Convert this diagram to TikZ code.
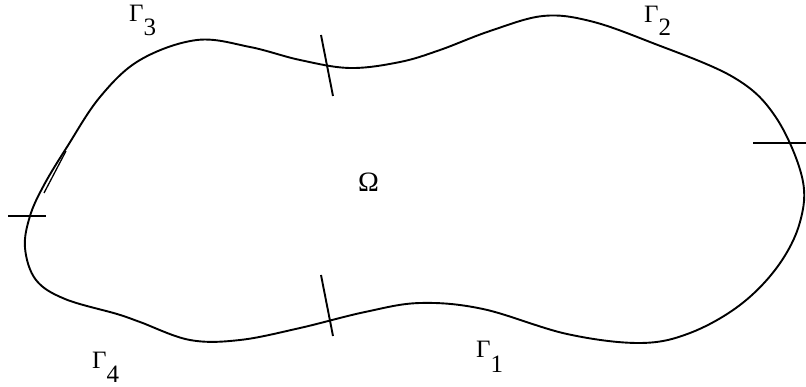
\documentclass[tikz,border=0pt]{standalone}
\usepackage{fontspec}
\setmainfont{Liberation Serif}
\tikzset{
  boundary/.style={line width=1.9pt, line join=round},
  tickline/.style={line width=1.9pt},
  lbl/.style={inner sep=0pt, font=\fontsize{25}{29}\selectfont},
  biglbl/.style={inner sep=0pt, font=\fontsize{28}{32}\selectfont}
}
\begin{document}
\begin{tikzpicture}[x=1pt,y=-1pt]
\useasboundingbox (0,0) rectangle (806,387);
% boundary of the domain
\draw[boundary] plot[smooth cycle, tension=0.6] coordinates {
 (30,216) (44,185) (67,147) (100,97) (140,60) (197,40) (250,47) (300,60)
 (350,68) (400,62) (440,50) (490,31) (543,16) (590,21) (650,42) (733,77)
 (775,116) (802,177)
 (800,222) (778,266) (740,305) (690,333) (640,343) (567,334) (483,309)
 (420,303) (365,312) (300,328) (240,340) (190,340) (140,322) (117,314)
 (65,299) (36,280) (25,248)
};
% doubled stroke on the left
\draw[line width=1.3pt] (66,151) -- (44,193);
% separating ticks
\draw[tickline] (321,35) -- (333,96);
\draw[tickline] (753,143) -- (806,143);
\draw[tickline] (8,216) -- (46,216);
\draw[tickline] (321,275) -- (333,336);
% labels
\node[lbl, anchor=base west] (g3) at (129,22) {Γ\raisebox{-14pt}{3}};
\node[lbl, anchor=base west] (g2) at (644,23) {Γ\raisebox{-13pt}{2}};
\node[lbl, anchor=base west] (g1) at (476,358) {Γ\raisebox{-14pt}{1}};
\node[lbl, anchor=base west] (g4) at (92,368) {Γ\raisebox{-14pt}{4}};
\node[biglbl, anchor=base] (om) at (368.5,192) {Ω};
\end{tikzpicture}
\end{document}
